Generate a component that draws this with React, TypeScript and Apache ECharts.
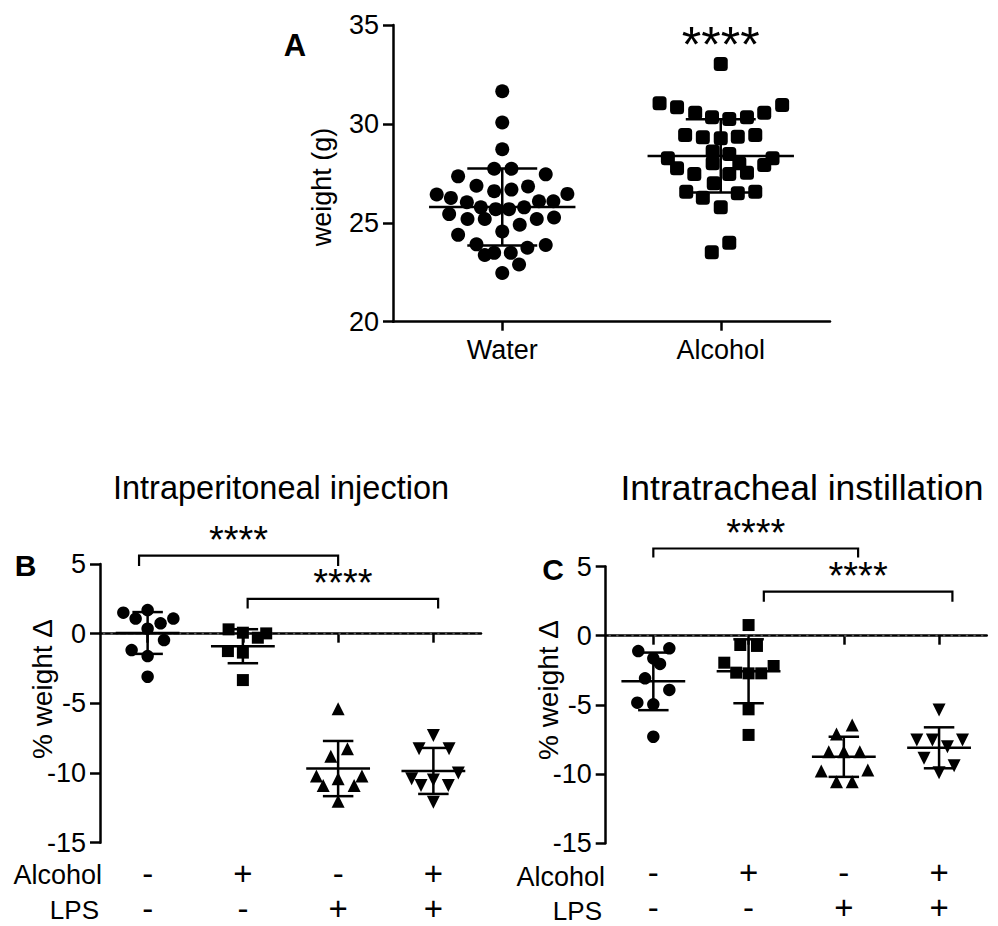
import React, { useEffect, useRef } from "react";
import * as echarts from "echarts";

const FONT = "'Liberation Sans', Arial, Helvetica, sans-serif";

// ---------- Panel A : body weight ----------
const groupsA = ["Water", "Alcohol"];
const yTicksA = { min: 20, max: 35, step: 5 };
const waterWeight = [31.65, 30.07, 28.72, 27.73, 27.73, 27.35, 27.45, 26.87, 26.6, 26.68, 26.84, 26.43, 26.26, 26.04, 26.46, 26.09, 26.09, 25.78, 25.69, 25.69, 25.78, 25.44, 25.19, 25.19, 24.56, 24.9, 25.19, 25.27, 24.39, 23.91, 23.37, 23.48, 23.48, 23.74, 23.88, 22.89, 22.46];
const waterJitter = [0, 0, 0, -0.037, 0.042, -0.202, 0.199, -0.118, -0.037, 0.042, 0.118, -0.3, -0.235, -0.162, 0.298, 0.234, 0.168, -0.098, -0.03, 0.031, 0.1, -0.243, -0.159, -0.08, 0, 0.08, 0.158, 0.237, -0.202, -0.118, -0.08, -0.037, 0.039, 0.115, 0.199, 0.077, 0];
const alcoholWeight = [33.03, 31.04, 30.84, 30.57, 30.33, 30.25, 30.33, 30.57, 30.96, 29.44, 29.32, 29.27, 29.35, 29.44, 28.26, 28.6, 28.48, 28.26, 27.76, 27.47, 28.01, 27.47, 27.53, 27.92, 28.01, 27.0, 26.57, 26.27, 26.49, 26.57, 25.78, 23.99, 23.51];
const alcoholJitter = [0, -0.28, -0.2, -0.117, -0.04, 0.039, 0.12, 0.199, 0.281, -0.163, -0.082, 0, 0.078, 0.158, -0.242, -0.037, 0.039, 0.237, -0.2, -0.121, -0.037, 0.039, 0.12, 0.199, 0.085, -0.032, -0.158, -0.082, 0.078, 0.158, 0, 0.039, -0.041];
const meanA = [25.8, 28.38];
const sdA = [1.95, 1.85];
const starsA = { x: 2, y: 34.0, text: "****" };

// ---------- Panels B & C : % weight change ----------
const alcoholSigns = ["-", "+", "-", "+"];
const lpsSigns = ["-", "-", "+", "+"];
const yTicksBC = { min: -15, max: 5, step: 5 };

// B: intraperitoneal injection
const ipCtrl = [1.51, 1.69, 1.08, 1.08, 0.74, 0.36, -0.46, -1.18, -1.61, -3.09];
const ipCtrlJit = [-0.255, 0, -0.126, 0.27, 0.136, 0, 0.172, -0.168, 0, 0];
const ipAlc = [0.31, 0.07, 0.02, -0.29, -1.25, -1.36, -3.33];
const ipAlcJit = [-0.15, 0, 0.245, 0.157, -0.157, 0, 0];
const ipLps = [-5.38, -8.26, -8.79, -10.22, -10.41, -10.22, -10.9, -10.9, -12.02];
const ipLpsJit = [0, 0.098, -0.077, -0.228, 0, 0.25, -0.157, 0.168, 0];
const ipAlcLps = [-7.3, -8.26, -8.26, -10.0, -10.41, -10.5, -10.89, -10.89, -12.09];
const ipAlcLpsJit = [0, -0.15, 0.165, 0.262, -0.228, 0, -0.13, 0.157, 0];
const meanB = [0.05, -0.9, -9.68, -9.85];
const sdB = [1.5, 1.22, 1.98, 1.65];
const bracketsB = [
  { x1: 0.91, x2: 3.0, y: 5.6, tip: 4.85, text: "****" },
  { x1: 2.05, x2: 4.05, y: 2.5, tip: 1.8, text: "****" },
];

// C: intratracheal instillation
const itCtrl = [-1.11, -0.91, -1.63, -2.04, -3.08, -3.92, -4.84, -4.96, -7.3];
const itCtrlJit = [-0.158, 0.168, 0, 0.07, -0.087, 0.168, -0.168, 0, 0];
const itAlc = [0.77, -0.67, -0.74, -1.95, -2.19, -2.67, -2.72, -2.72, -5.32, -7.17];
const itAlcJit = [0, -0.087, 0.088, -0.255, 0.263, -0.13, 0, 0.133, 0, 0];
const itLps = [-6.45, -7.1, -8.38, -8.38, -8.38, -9.78, -9.7, -10.55, -10.55];
const itLpsJit = [0.088, -0.077, -0.158, 0, 0.168, -0.237, 0.252, -0.077, 0.088];
const itAlcLps = [-5.37, -7.54, -7.54, -7.54, -8.02, -8.86, -9.4, -9.9];
const itAlcLpsJit = [0, -0.234, -0.07, 0.246, 0.088, -0.158, 0.158, 0];
const meanC = [-3.3, -2.57, -8.75, -8.1];
const sdC = [2.08, 2.31, 1.45, 1.48];
const bracketsC = [
  { x1: 1.0, x2: 3.15, y: 6.3, tip: 5.65, text: "****" },
  { x1: 2.16, x2: 4.14, y: 3.18, tip: 2.46, text: "****" },
];

const AXIS_W = 2.5;

function scatter(xIdx: number, yIdx: number, center: number, values: number[], jitter: number[], symbol: string, size: number, rotate = 0) {
  return {
    type: "scatter",
    xAxisIndex: xIdx,
    yAxisIndex: yIdx,
    symbol,
    symbolSize: size,
    symbolRotate: rotate,
    itemStyle: { color: "#000", opacity: 1 },
    silent: true,
    z: 3,
    data: values.map((v, i) => [center + jitter[i], v]),
  };
}

function errorBars(xIdx: number, yIdx: number, means: number[], sds: number[]) {
  return {
    type: "custom",
    xAxisIndex: xIdx,
    yAxisIndex: yIdx,
    silent: true,
    z: 5,
    data: means.map((m, i) => [i + 1, m, sds[i]]),
    renderItem: (params: any, api: any) => {
      const x = api.value(0), m = api.value(1), s = api.value(2);
      const p = (a: number, b: number) => api.coord([a, b]);
      const style = { stroke: "#000", lineWidth: AXIS_W };
      const line = (a: number[], b: number[]) => ({ type: "line", shape: { x1: a[0], y1: a[1], x2: b[0], y2: b[1] }, style });
      return {
        type: "group",
        children: [
          line(p(x - 0.335, m), p(x + 0.335, m)),
          line(p(x, m - s), p(x, m + s)),
          line(p(x - 0.16, m + s), p(x + 0.16, m + s)),
          line(p(x - 0.16, m - s), p(x + 0.16, m - s)),
        ],
      };
    },
  };
}

function brackets(xIdx: number, yIdx: number, list: any[], font: number) {
  return {
    type: "custom",
    xAxisIndex: xIdx,
    yAxisIndex: yIdx,
    silent: true,
    clip: false,
    z: 5,
    data: list.map((b) => [b.x1, b.x2, b.y, b.tip]),
    renderItem: (params: any, api: any) => {
      const x1 = api.value(0), x2 = api.value(1), y = api.value(2), tip = api.value(3);
      const a = api.coord([x1, tip]);
      const b = api.coord([x1, y]);
      const c = api.coord([x2, y]);
      const d = api.coord([x2, tip]);
      return {
        type: "group",
        children: [
          { type: "polyline", shape: { points: [a, b, c, d] }, style: { stroke: "#000", lineWidth: 2.2, fill: null } },
          {
            type: "text",
            x: (b[0] + c[0]) / 2,
            y: b[1] - 16,
            style: { text: list[params.dataIndex].text, font: `${font}px ${FONT}`, fill: "#000", align: "center", verticalAlign: "middle" },
          },
        ],
      };
    },
  };
}

function starText(xIdx: number, yIdx: number, s: any, font: number) {
  return {
    type: "custom",
    xAxisIndex: xIdx,
    yAxisIndex: yIdx,
    silent: true,
    clip: false,
    data: [[s.x, s.y]],
    renderItem: (params: any, api: any) => {
      const p = api.coord([api.value(0), api.value(1)]);
      return { type: "text", x: p[0], y: p[1], style: { text: s.text, font: `${font}px ${FONT}`, fill: "#000", align: "center", verticalAlign: "middle" } };
    },
  };
}

function yAxis(grid: number, t: { min: number; max: number; step: number }) {
  return {
    type: "value",
    gridIndex: grid,
    min: t.min,
    max: t.max,
    interval: t.step,
    axisLine: { show: true, lineStyle: { color: "#000", width: AXIS_W } },
    axisTick: { show: true, length: 10, lineStyle: { color: "#000", width: AXIS_W } },
    axisLabel: { color: "#000", fontSize: 27, fontFamily: FONT, margin: 14 },
    splitLine: { show: false },
  };
}

function catAxis(grid: number, labels: string[], fontSize: number, lineHeight: number, margin: number) {
  return {
    type: "category",
    gridIndex: grid,
    data: labels,
    boundaryGap: true,
    axisLine: { show: true, lineStyle: { color: "#000", width: AXIS_W } },
    axisTick: { show: true, alignWithLabel: true, length: 9, lineStyle: { color: "#000", width: AXIS_W } },
    axisLabel: { color: "#000", fontSize, fontFamily: FONT, margin, lineHeight, interval: 0 },
    splitLine: { show: false },
  };
}

function valAxis(grid: number, n: number) {
  return { type: "value", gridIndex: grid, min: 0.5, max: n + 0.5, show: false, splitLine: { show: false } };
}

// dotted reference line at y = 0
function zeroLine(xIdx: number, yIdx: number, n: number) {
  return {
    type: "custom",
    xAxisIndex: xIdx,
    yAxisIndex: yIdx,
    silent: true,
    z: 1,
    data: [[0.5, n + 0.5, 0]],
    renderItem: (params: any, api: any) => {
      const a = api.coord([api.value(0), api.value(2)]);
      const b = api.coord([api.value(1), api.value(2)]);
      return {
        type: "line",
        shape: { x1: a[0] + 4, y1: a[1], x2: b[0], y2: b[1] },
        style: { stroke: "#555", lineWidth: 2.4, lineDash: [0.1, 7.5], lineCap: "round" },
      };
    },
  };
}

export default function App() {
  const ref = useRef<HTMLDivElement>(null);
  useEffect(() => {
    if (!ref.current) return;
    const chart = echarts.init(ref.current, undefined, { renderer: "svg" });
    const signLabels = alcoholSigns.map((a, i) => `${a}\n${lpsSigns[i]}`);
    const textStyle = (text: string, size: number, bold = false) => ({ text, font: `${bold ? "bold " : ""}${size}px ${FONT}`, fill: "#000" });
    chart.setOption({
      animation: false,
      backgroundColor: "#fff",
      grid: [
        { left: 393, top: 25, width: 437, height: 296.7 },
        { left: 100, top: 564, width: 381, height: 278.7 },
        { left: 605.7, top: 566.5, width: 381, height: 276.8 },
      ],
      xAxis: [
        catAxis(0, groupsA, 27, 30, 13),
        valAxis(0, 2),
        catAxis(1, signLabels, 33, 35, 13),
        valAxis(1, 4),
        catAxis(2, signLabels, 33, 35, 12),
        valAxis(2, 4),
      ],
      yAxis: [yAxis(0, yTicksA), yAxis(1, yTicksBC), yAxis(2, yTicksBC)],
      series: [
        // Panel A
        scatter(1, 0, 1, waterWeight, waterJitter, "circle", 14),
        scatter(1, 0, 2, alcoholWeight, alcoholJitter, "roundRect", 14),
        errorBars(1, 0, meanA, sdA),
        starText(1, 0, starsA, 50),
        // Panel B
        zeroLine(3, 1, 4),
        scatter(3, 1, 1, ipCtrl, ipCtrlJit, "circle", 12.5),
        scatter(3, 1, 2, ipAlc, ipAlcJit, "rect", 12),
        scatter(3, 1, 3, ipLps, ipLpsJit, "triangle", 13),
        scatter(3, 1, 4, ipAlcLps, ipAlcLpsJit, "triangle", 13, 180),
        errorBars(3, 1, meanB, sdB),
        brackets(3, 1, bracketsB, 38),
        // Panel C
        zeroLine(5, 2, 4),
        scatter(5, 2, 1, itCtrl, itCtrlJit, "circle", 12.5),
        scatter(5, 2, 2, itAlc, itAlcJit, "rect", 12),
        scatter(5, 2, 3, itLps, itLpsJit, "triangle", 13),
        scatter(5, 2, 4, itAlcLps, itAlcLpsJit, "triangle", 13, 180),
        errorBars(5, 2, meanC, sdC),
        brackets(5, 2, bracketsC, 38),
      ],
      graphic: [
        { type: "text", x: 295, y: 45, style: { ...textStyle("A", 31, true), align: "center", verticalAlign: "middle" } },
        { type: "text", x: 25.5, y: 565, style: { ...textStyle("B", 30, true), align: "center", verticalAlign: "middle" } },
        { type: "text", x: 553, y: 569, style: { ...textStyle("C", 30, true), align: "center", verticalAlign: "middle" } },
        { type: "text", x: 322, y: 187, rotation: Math.PI / 2, style: { ...textStyle("weight (g)", 27), align: "center", verticalAlign: "middle" } },
        { type: "text", x: 42, y: 689, rotation: Math.PI / 2, style: { ...textStyle("% weight Δ", 28), align: "center", verticalAlign: "middle" } },
        { type: "text", x: 548, y: 690, rotation: Math.PI / 2, style: { ...textStyle("% weight Δ", 28), align: "center", verticalAlign: "middle" } },
        { type: "text", x: 281, y: 488, style: { ...textStyle("Intraperitoneal injection", 32.5), align: "center", verticalAlign: "middle" } },
        { type: "text", x: 802, y: 488, style: { ...textStyle("Intratracheal instillation", 35.5), align: "center", verticalAlign: "middle" } },
        { type: "text", x: 102, y: 875, style: { ...textStyle("Alcohol", 27), align: "right", verticalAlign: "middle" } },
        { type: "text", x: 99, y: 910, style: { ...textStyle("LPS", 26), align: "right", verticalAlign: "middle" } },
        { type: "text", x: 605, y: 877, style: { ...textStyle("Alcohol", 27), align: "right", verticalAlign: "middle" } },
        { type: "text", x: 602, y: 911, style: { ...textStyle("LPS", 26), align: "right", verticalAlign: "middle" } },
      ],
    });
    return () => chart.dispose();
  }, []);
  return <div ref={ref} style={{ position: "absolute", left: 0, top: 0, width: 998, height: 926, background: "#fff" }} />;
}
